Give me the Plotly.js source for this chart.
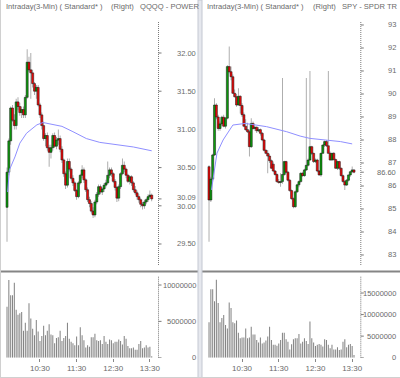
<!DOCTYPE html>
<html><head><meta charset="utf-8">
<script src="https://cdn.plot.ly/plotly-3.0.1.min.js"></script>
<style>html,body{margin:0;padding:0;background:#fff;}#chart{width:400px;height:378px;}</style>
</head><body><div id="chart"></div>
<script>
const times = ["09:36","09:39","09:42","09:45","09:48","09:51","09:54","09:57","10:00","10:03",
"10:06","10:09","10:12","10:15","10:18","10:21","10:24","10:27","10:30","10:33",
"10:36","10:39","10:42","10:45","10:48","10:51","10:54","10:57","11:00","11:03",
"11:06","11:09","11:12","11:15","11:18","11:21","11:24","11:27","11:30","11:33",
"11:36","11:39","11:42","11:45","11:48","11:51","11:54","11:57","12:00","12:03",
"12:06","12:09","12:12","12:15","12:18","12:21","12:24","12:27","12:30","12:33",
"12:36","12:39","12:42","12:45","12:48","12:51","12:54","12:57","13:00","13:03",
"13:06","13:09","13:12","13:15","13:18","13:21","13:24","13:27","13:30","13:33"];

// QQQQ
const qOpen = [29.98,30.44,30.85,31.28,31.12,31.05,31.36,31.30,31.22,31.26,
31.19,31.42,31.88,31.78,31.74,31.60,31.50,31.55,31.32,31.19,
31.05,30.88,30.92,30.76,30.70,30.76,30.92,30.78,30.86,30.88,
30.74,30.60,30.42,30.27,30.58,30.48,30.36,30.30,30.20,30.12,
30.30,30.40,30.47,30.34,30.21,30.08,30.03,29.93,29.88,30.05,
30.15,30.25,30.18,30.22,30.27,30.30,30.40,30.47,30.42,30.32,
30.24,30.10,30.25,30.42,30.53,30.48,30.40,30.32,30.38,30.30,
30.21,30.17,30.12,30.08,30.02,30.00,30.05,30.08,30.12,30.14];
const qHigh = [30.50,30.88,31.30,31.32,31.20,31.40,31.42,31.35,31.30,31.30,
31.45,32.05,31.95,32.00,31.78,31.62,31.58,31.58,31.35,31.22,
31.10,30.95,30.96,30.80,30.80,30.95,30.96,30.90,31.00,30.92,
30.78,30.62,30.45,30.62,30.62,30.50,30.40,30.32,30.22,30.32,
30.42,30.53,30.50,30.36,30.24,30.12,30.06,29.98,30.08,30.18,
30.28,30.28,30.24,30.30,30.34,30.58,30.50,30.50,30.44,30.35,
30.26,30.28,30.44,30.62,30.58,30.50,30.42,30.40,30.40,30.32,
30.26,30.20,30.15,30.10,30.05,30.08,30.10,30.15,30.20,30.16];
const qLow = [29.53,30.40,30.80,31.10,31.00,31.00,31.25,31.18,31.15,31.15,
31.15,31.40,31.75,31.40,31.55,31.45,31.40,31.30,31.15,31.00,
30.85,30.78,30.72,30.51,30.62,30.72,30.76,30.74,30.80,30.70,
30.56,30.38,30.22,30.24,30.45,30.33,30.26,30.18,30.08,30.10,
30.28,30.36,30.30,30.18,30.05,29.98,29.90,29.84,29.85,30.02,
30.12,30.15,30.14,30.18,30.24,30.28,30.36,30.38,30.30,30.20,
30.05,30.06,30.22,30.40,30.44,30.36,30.30,30.28,30.26,30.18,
30.14,30.08,30.04,29.98,29.95,29.96,30.02,30.05,30.10,30.06];
const qClose = [30.44,30.85,31.28,31.12,31.05,31.36,31.30,31.22,31.26,31.19,
31.42,31.88,31.78,31.74,31.60,31.50,31.55,31.32,31.19,31.05,
30.88,30.92,30.76,30.70,30.76,30.92,30.78,30.86,30.88,30.74,
30.60,30.42,30.27,30.58,30.48,30.36,30.30,30.20,30.12,30.30,
30.40,30.47,30.34,30.21,30.08,30.03,29.93,29.88,30.05,30.15,
30.25,30.18,30.22,30.27,30.30,30.40,30.47,30.42,30.32,30.24,
30.10,30.25,30.42,30.53,30.48,30.40,30.32,30.38,30.30,30.21,
30.17,30.12,30.08,30.02,30.00,30.05,30.08,30.12,30.14,30.09];
const qVolume = [7.0e6,10.7e6,8.6e6,8.6e6,10.3e6,6.6e6,5.9e6,6.1e6,6.3e6,3.7e6,
4.8e6,3.7e6,7.5e6,5.4e6,4.0e6,3.1e6,5.2e6,3.6e6,2.3e6,3.0e6,
4.4e6,3.1e6,3.7e6,4.6e6,3.2e6,3.1e6,2.0e6,2.7e6,2.8e6,3.7e6,
2.3e6,2.7e6,3.0e6,4.8e6,2.6e6,2.2e6,2.0e6,1.7e6,2.9e6,1.7e6,
4.2e6,3.1e6,2.4e6,1.4e6,1.7e6,1.5e6,2.8e6,2.8e6,3.3e6,2.4e6,
2.3e6,2.4e6,1.9e6,3.0e6,2.2e6,1.9e6,2.5e6,2.4e6,2.0e6,2.2e6,
2.2e6,2.5e6,2.3e6,1.8e6,3.0e6,2.6e6,1.6e6,1.3e6,1.3e6,1.4e6,
1.1e6,1.1e6,1.9e6,2.3e6,1.3e6,1.4e6,1.7e6,1.4e6,1.5e6,0.2e6];
const qAvgTimes = ["09:37","09:40","09:49","09:57","10:08","10:25","10:35","10:52","11:06","11:24","11:46","12:08","12:36","13:03","13:33"];
const qAvg = [30.18,30.47,30.64,30.82,30.95,31.06,31.09,31.06,31.04,30.97,30.88,30.83,30.80,30.77,30.72];

// SPY
const sOpen = [86.84,85.39,86.30,87.35,89.52,89.00,88.50,88.70,88.99,88.60,
88.95,91.19,90.97,90.75,90.03,89.88,89.52,89.90,89.50,89.10,
88.60,88.45,88.36,87.71,88.72,88.50,88.55,88.40,88.45,88.29,
88.00,87.55,87.42,87.30,87.10,86.95,86.65,86.50,86.19,86.15,
86.19,86.50,87.06,86.60,86.25,85.80,85.45,85.10,85.75,86.05,
86.19,86.55,86.45,86.70,86.90,87.13,87.71,87.42,87.06,87.13,
86.65,86.48,87.42,87.78,87.93,87.75,87.42,87.13,87.42,87.15,
86.77,87.06,86.77,86.45,86.19,86.04,86.25,86.48,86.62,86.70];
const sHigh = [86.90,86.40,87.40,89.81,89.60,89.10,88.80,89.05,89.10,89.00,
91.25,92.06,91.20,90.85,90.20,90.00,90.25,89.95,89.60,89.20,
88.90,88.75,88.45,88.94,88.80,88.62,88.60,88.55,88.50,88.35,
88.05,87.60,87.57,87.40,87.15,87.06,86.70,86.55,86.30,86.55,
90.70,87.10,87.10,86.65,86.30,85.85,85.50,85.80,86.10,86.25,
86.60,86.62,86.75,90.70,87.20,91.00,87.75,87.45,87.20,87.18,
86.70,87.45,87.80,87.98,88.00,91.00,87.50,87.45,87.48,87.20,
87.10,87.10,86.80,86.50,86.26,86.30,86.50,86.65,86.85,86.72];
const sLow = [83.58,85.30,86.20,87.30,88.90,88.40,88.40,88.60,88.55,88.50,
88.90,90.90,90.60,90.00,89.85,89.45,89.50,89.15,89.00,88.55,
88.40,88.30,87.28,87.65,88.45,88.40,88.30,88.35,88.20,87.95,
87.50,87.38,86.55,87.00,86.75,86.60,86.45,86.15,86.10,85.97,
86.10,86.45,86.55,86.20,85.75,85.40,85.03,85.05,85.70,85.95,
86.15,86.40,86.40,86.65,86.85,87.10,87.35,87.00,87.00,86.60,
86.45,86.40,87.40,87.70,87.70,87.40,87.10,87.10,87.10,86.75,
86.70,86.70,86.40,86.15,85.83,86.00,86.20,86.40,86.55,86.55];
const sClose = [85.39,86.30,87.35,89.52,89.00,88.50,88.70,88.99,88.60,88.95,
91.19,90.97,90.75,90.03,89.88,89.52,89.90,89.50,89.10,88.60,
88.45,88.36,87.71,88.72,88.50,88.55,88.40,88.45,88.29,88.00,
87.55,87.42,87.30,87.10,86.77,86.65,86.50,86.19,86.15,86.19,
86.50,87.06,86.60,86.25,85.80,85.45,85.10,85.75,86.05,86.19,
86.55,86.45,86.70,86.90,87.13,87.71,87.42,87.06,87.13,86.65,
86.48,87.42,87.78,87.93,87.75,87.42,87.13,87.42,87.15,86.77,
87.06,86.77,86.45,86.19,86.04,86.25,86.48,86.62,86.70,86.60];
const sVolume = [8.2e6,15.9e6,15.9e6,13.1e6,18.1e6,12.7e6,8.2e6,9.2e6,9.9e6,7.6e6,
6.8e6,12.8e6,11.5e6,8.2e6,8.0e6,8.6e6,5.8e6,4.5e6,4.7e6,4.7e6,
6.8e6,4.5e6,4.7e6,7.2e6,5.4e6,5.4e6,4.1e6,3.5e6,4.7e6,3.3e6,
3.5e6,4.0e6,4.9e6,7.2e6,4.1e6,3.0e6,3.0e6,2.8e6,3.3e6,4.1e6,
5.8e6,5.8e6,4.3e6,3.7e6,1.9e6,3.1e6,4.3e6,4.5e6,4.5e6,5.5e6,
3.3e6,3.7e6,4.5e6,3.9e6,3.2e6,8.4e6,4.5e6,3.5e6,2.7e6,3.0e6,
3.2e6,3.0e6,2.6e6,4.3e6,4.1e6,3.0e6,2.2e6,3.0e6,1.9e6,1.9e6,
2.4e6,1.8e6,1.9e6,3.7e6,4.3e6,2.4e6,3.0e6,3.2e6,2.7e6,0.6e6];
const sAvgTimes = ["09:40","09:49","09:59","10:10","10:15","10:35","11:10","11:43","12:05","12:21","12:49","13:11","13:30"];
const sAvg = [85.83,87.43,88.00,88.43,88.65,88.72,88.58,88.36,88.17,88.07,88.00,87.93,87.83];

// tick labels
const timeTickVals = ["10:30","11:30","12:30","13:30"];
const qPriceTicks = [29.5,30.0,30.09,30.5,31.0,31.5,32.0];
const qPriceText = ["29.50","30.00","30.09","30.50","31.00","31.50","32.00"];
const qVolTicks = [0,5000000,10000000];
const qVolText = ["0","5000000","10000000"];
const sPriceTicks = [83,84,85,86,86.6,87,88,89,90,91,92,93];
const sPriceText = ["83","84","85","86","86.60","87","88","89","90","91","92","93"];
const sVolTicks = [0,5000000,10000000,15000000];
const sVolText = ["0","5000000","10000000","15000000"];
const qTitle = ["Intraday(3-Min) ( Standard* )","(Right)","QQQQ - POWER"];
const sTitle = ["Intraday(3-Min) ( Standard* )","(Right)","SPY - SPDR TR"];

// ---- drawing ----
const W = 400, H = 378;
const PX = v => v / W, PY = v => 1 - v / H;
const toMin = s => { const p = s.split(':'); return (+p[0]) * 60 + (+p[1]); };
const tx = times.map(toMin);
const xr = [567.8, 823.3];
const TXT = '#6a6a6a';
const FONT = 'Liberation Sans, Arial, sans-serif';

function candleTraces(o, h, l, c, xa, ya) {
  const bot = o.map((v, i) => Math.min(v, c[i]));
  const len = o.map((v, i) => Math.abs(c[i] - v));
  const col = o.map((v, i) => c[i] >= v ? '#0c9c0c' : '#ee0a0a');
  const rng = h.map((v, i) => v - l[i]);
  return [
    {type:'bar', x:tx, y:rng, base:l, xaxis:xa, yaxis:ya, width:1.4,
     marker:{color:'#a0a0a0', line:{width:0}}, hoverinfo:'skip'},
    {type:'bar', x:tx, y:len, base:bot, xaxis:xa, yaxis:ya, width:3.4,
     marker:{color:col, line:{color:'#111', width:0.5}}, hoverinfo:'skip'}
  ];
}
function volTrace(v, xa, ya) {
  return {type:'bar', x:tx, y:v, xaxis:xa, yaxis:ya, width:1.7,
          marker:{color:'#858585', line:{width:0}}, hoverinfo:'skip'};
}
function avgTrace(t, v, xa, ya) {
  return {type:'scatter', mode:'lines', x:t.map(toMin), y:v, xaxis:xa, yaxis:ya,
          line:{color:'#8f8fff', width:1}, hoverinfo:'skip'};
}

const data = [
  ...candleTraces(qOpen, qHigh, qLow, qClose, 'x', 'y'),
  avgTrace(qAvgTimes, qAvg, 'x', 'y'),
  volTrace(qVolume, 'x2', 'y2'),
  ...candleTraces(sOpen, sHigh, sLow, sClose, 'x3', 'y3'),
  avgTrace(sAvgTimes, sAvg, 'x3', 'y3'),
  volTrace(sVolume, 'x4', 'y4')
];

const bare = {showline:false, showgrid:false, zeroline:false, ticks:'', showticklabels:false, fixedrange:true};
const hiddenX = (dom, anchor) => Object.assign({domain:dom, range:xr, anchor:anchor, rangeslider:{visible:false}}, bare);
const timeX = (dom, anchor) => ({domain:dom, range:xr, anchor:anchor, tickmode:'array',
  tickvals:timeTickVals.map(toMin), ticktext:timeTickVals, ticks:'outside', ticklen:3, tickcolor:'#888',
  showline:false, showgrid:false, zeroline:false, tickfont:{size:8, color:TXT, family:FONT}, fixedrange:true});
const plainY = (dom, range, anchor) => Object.assign({domain:dom, range:range, anchor:anchor}, bare);

const priceDom = [PY(265), PY(22)];
const volDom = [PY(357.7), PY(276)];
const leftDom = [PX(2), PX(158)];
const rightDom = [PX(204), PX(360.3)];

const shapes = [];
const annotations = [];
function axisDeco(xpx, labelX, ya, vals, text, y0px, y1px) {
  shapes.push({type:'line', xref:'paper', yref:'paper', x0:PX(xpx), x1:PX(xpx), y0:PY(y1px), y1:PY(y0px),
               line:{color:'#7a7a7a', width:1, dash:'1px,1px'}});
  vals.forEach((v, i) => {
    shapes.push({type:'line', xref:'paper', yref:ya, x0:PX(xpx), x1:PX(xpx + 3), y0:v, y1:v,
                 line:{color:'#7a7a7a', width:1}});
    const ys = text[i] === '30.09' ? 1 : (text[i] === '30.00' ? -1 : 0);
    annotations.push({text:text[i], xref:'paper', yref:ya, x:PX(labelX), y:v, xanchor:'right', yanchor:'middle',
                 yshift:ys, showarrow:false, font:{size:7.5, color:TXT, family:FONT}, borderpad:0});
  });
}
axisDeco(158.5, 197, 'y', qPriceTicks, qPriceText, 22, 265);
axisDeco(158.5, 197, 'y2', qVolTicks, qVolText, 276, 357.7);
axisDeco(360.8, 397, 'y3', sPriceTicks, sPriceText, 22, 265);
axisDeco(360.8, 397, 'y4', sVolTicks, sVolText, 276, 357.7);
// separators
shapes.push({type:'line', xref:'paper', yref:'paper', x0:0, x1:PX(198), y0:PY(271.5), y1:PY(271.5), line:{color:'#858585', width:2}});
shapes.push({type:'line', xref:'paper', yref:'paper', x0:PX(202), x1:1, y0:PY(271.5), y1:PY(271.5), line:{color:'#858585', width:2}});
shapes.push({type:'rect', xref:'paper', yref:'paper', x0:PX(198), x1:PX(202), y0:0, y1:1, fillcolor:'#e6e8ee', line:{color:'#c4c8d2', width:1}});
shapes.push({type:'line', xref:'paper', yref:'paper', x0:PX(0.5), x1:PX(0.5), y0:0, y1:1, line:{color:'#d0d0d0', width:1}});
shapes.push({type:'line', xref:'paper', yref:'paper', x0:0, x1:1, y0:PY(377.5), y1:PY(377.5), line:{color:'#d0d0d0', width:1}});

function title(parts, xs) {
  parts.forEach((t, i) => annotations.push({text:t, xref:'paper', yref:'paper', x:PX(xs[i]), y:PY(7),
    xanchor:'left', yanchor:'middle', showarrow:false, borderpad:0, font:{size:7.6, color:TXT, family:FONT}}));
}
title(qTitle, [5, 110, 139]);
title(sTitle, [206, 312, 341]);

const layout = {
  width:W, height:H, margin:{l:0, r:0, t:0, b:0}, paper_bgcolor:'#fff', plot_bgcolor:'rgba(0,0,0,0)',
  showlegend:false, barmode:'overlay', dragmode:false,
  font:{family:FONT, size:8, color:TXT},
  xaxis: hiddenX(leftDom, 'y'),
  yaxis: plainY(priceDom, [29.225, 32.406], 'x'),
  xaxis2: timeX(leftDom, 'y2'),
  yaxis2: plainY(volDom, [0, 11240000], 'x2'),
  xaxis3: hiddenX(rightDom, 'y3'),
  yaxis3: plainY(priceDom, [82.565, 93.13], 'x3'),
  xaxis4: timeX(rightDom, 'y4'),
  yaxis4: plainY(volDom, [0, 18950000], 'x4'),
  shapes: shapes, annotations: annotations
};
Plotly.newPlot('chart', data, layout, {staticPlot:true, displayModeBar:false});
</script></body></html>
